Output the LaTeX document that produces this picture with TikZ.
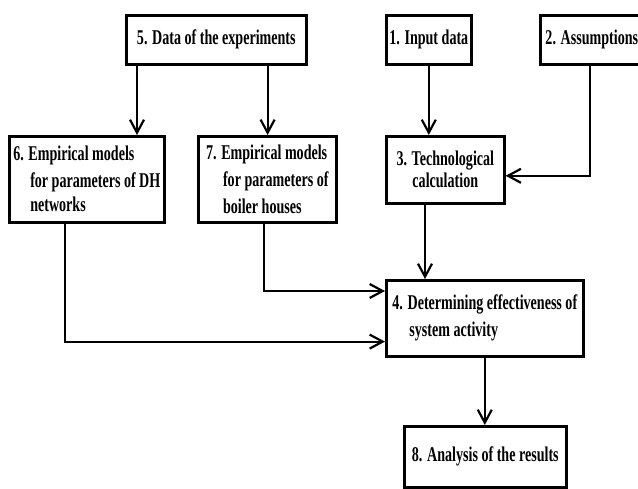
\documentclass[tikz,border=0pt]{standalone}
\usepackage{fontspec}
\setmainfont{Liberation Serif}[FakeStretch=0.67]
\usetikzlibrary{arrows.meta}

\tikzset{every picture/.style={line width=2.2pt}}
\tikzset{block/.style={draw, rectangle, line width=2.6pt, inner sep=3pt, anchor=north west,
    font=\bfseries\fontsize{21}{27}\selectfont}}
\tikzset{flow/.style={-{Straight Barb[length=13pt,width=14pt]}}}
\newcommand{\ind}{\hspace*{17pt}}

\begin{document}
\begin{tikzpicture}[x=1pt,y=-1pt]
        \useasboundingbox (0,0) rectangle (638,488);
        \node[block, minimum width=180pt, minimum height=49pt] (data) at (125,14) {5. Data of the experiments};
        \node[block, minimum width=84pt, minimum height=49pt] (input) at (385,14) {1. Input data};
        \node[block, minimum width=103pt, minimum height=49pt] (assum) at (539,14) {2. Assumptions};
        \node[block, minimum width=155pt, minimum height=86pt, align=left] (emp6) at (8,135)
            {6. Empirical models\\ \ind for parameters of DH\\[-3pt] \ind networks};
        \node[block, minimum width=138pt, minimum height=86pt, align=left] (emp7) at (197,135)
            {7. Empirical models\\ \ind for parameters of\\ \ind boiler houses};
        \node[block, minimum width=118pt, minimum height=67pt, align=center] (tech) at (385,135)
            {3. Technological\\[-5pt] calculation};
        \node[block, minimum width=197pt, minimum height=76pt, align=left] (effect) at (385,279)
            {4. Determining effectiveness of\\ \ind system activity};
        \node[block, minimum width=162pt, minimum height=61pt] (result) at (403,425) {8. Analysis of the results};
        \draw[flow] ([xshift=12pt]data.south west) -- ([xshift=12pt]data.south west |- emp6.north);
        \draw[flow] ([xshift=-40pt]data.south east) -- ([xshift=-40pt]data.south east |- emp7.north);
        \draw[flow] (input.south) -- (input.south |- tech.north);
        \draw[flow] ([xshift=51pt]assum.south west) |- ([yshift=-6pt]tech.east);
        \draw[flow] ([xshift=40pt]tech.south west) -- ([xshift=40pt]tech.south west |- effect.north);
        \draw[flow] ([xshift=67pt]emp7.south west) |- ([yshift=-12pt]effect.north west);
        \draw[flow] ([xshift=57pt]emp6.south west) |- ([yshift=16pt]effect.south west);
        \draw[flow] (effect.south) -- (effect.south |- result.north);
\end{tikzpicture}
\end{document}
